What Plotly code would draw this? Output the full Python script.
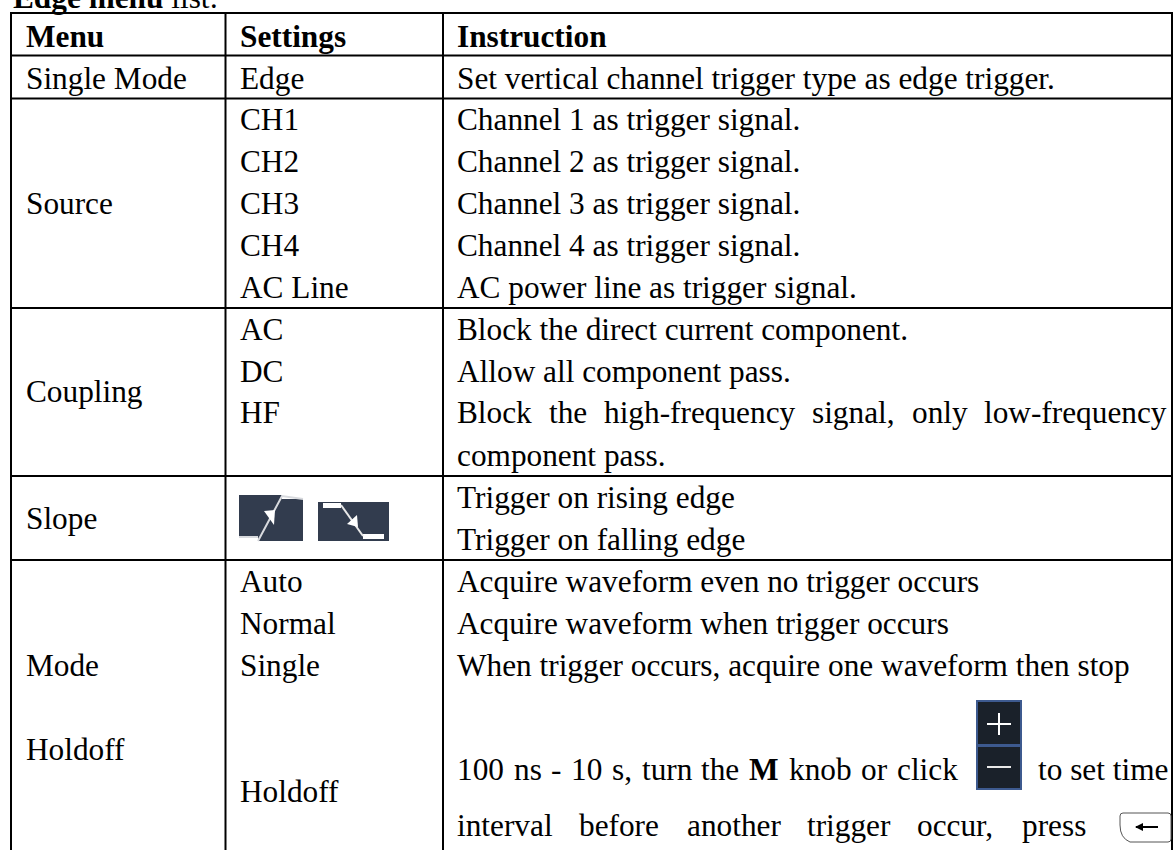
import plotly.graph_objects as go

FONT = "Liberation Serif"
FS = 31.3
W, H = 1176, 850

# column / row rules
col_x = [11, 225.5, 443, 1172]
row_y = [13, 55.5, 98.5, 308, 476, 560]

title = "<b>Edge menu</b> list:"
menu_labels = [("<b>Menu</b>", 36), ("Single Mode", 78), ("Source", 203), ("Coupling", 391),
               ("Slope", 518), ("Mode", 665), ("Holdoff", 749)]
settings_labels = [("<b>Settings</b>", 36), ("Edge", 78), ("CH1", 119), ("CH2", 161), ("CH3", 203),
                   ("CH4", 245), ("AC Line", 287), ("AC", 329), ("DC", 371), ("HF", 412),
                   ("Auto", 581), ("Normal", 623), ("Single", 665), ("Holdoff", 791)]
instruction_labels = [
    ("<b>Instruction</b>", 36),
    ("Set vertical channel trigger type as edge trigger.", 78),
    ("Channel 1 as trigger signal.", 119),
    ("Channel 2 as trigger signal.", 161),
    ("Channel 3 as trigger signal.", 203),
    ("Channel 4 as trigger signal.", 245),
    ("AC power line as trigger signal.", 287),
    ("Block the direct current component.", 329),
    ("Allow all component pass.", 371),
    ("component pass.", 455),
    ("Trigger on rising edge", 497),
    ("Trigger on falling edge", 539),
    ("Acquire waveform even no trigger occurs", 581),
    ("Acquire waveform when trigger occurs", 623),
    ("When trigger occurs, acquire one waveform then stop", 665),
]
# justified lines are placed word by word
justified = [
    (412, [("Block", 456), ("the", 548), ("high-frequency", 603), ("signal,", 811), ("only", 911), ("low-frequency", 983)]),
    (769, [("100", 456), ("ns", 513), ("-", 550), ("10", 570), ("s,", 611), ("turn", 641), ("the", 700),
           ("<b>M</b>", 748), ("knob", 788), ("or", 860), ("click", 896), ("to set time", 1037)]),
    (825, [("interval", 456), ("before", 578), ("another", 686), ("trigger", 806), ("occur,", 916), ("press", 1021)]),
]

fig = go.Figure()
fig.add_trace(go.Scatter(x=[0, W], y=[0, H], mode="markers", marker=dict(opacity=0), hoverinfo="skip", showlegend=False))

shapes = []
def line(x0, y0, x1, y1):
    shapes.append(dict(type="line", x0=x0, y0=y0, x1=x1, y1=y1, line=dict(color="#000", width=2)))

for x in col_x:
    line(x, 13, x, 850)
for y in row_y:
    line(10, y, 1173, y)

# slope icons
NAVY = "#323c4e"
def path(d, fill=NAVY, color=None, width=0):
    shapes.append(dict(type="path", path=d, fillcolor=fill, line=dict(color=color or fill, width=width)))

path("M239,495 L282,495 L282,499 L303,499 L303,541 L258,541 L258,537 L239,537 Z")
shapes.append(dict(type="path", path="M239,537 L258,537", line=dict(color="#d8dade", width=2)))
shapes.append(dict(type="path", path="M258,541 L282,496 L303,499", line=dict(color="#d8dade", width=2)))
path("M264,511 L275,510 L274,525 Z", fill="#ffffff")
path("M318,502 L389,502 L389,541 L318,541 Z")
shapes.append(dict(type="rect", x0=323, y0=503, x1=341, y1=508, fillcolor="#fff", line=dict(width=0)))
shapes.append(dict(type="rect", x0=363, y0=534, x1=384, y1=539, fillcolor="#fff", line=dict(width=0)))
shapes.append(dict(type="path", path="M341,505 L363,536", line=dict(color="#e8e8e8", width=2)))
path("M357,515 L358,527 L347,524 Z", fill="#ffffff")

# +/- buttons
for y0, y1 in [(701, 745), (746, 789)]:
    shapes.append(dict(type="rect", x0=977, y0=y0, x1=1021, y1=y1, fillcolor="#1a212a", line=dict(color="#3d5a8f", width=2)))
shapes.append(dict(type="line", x0=987, y0=724, x1=1011, y1=724, line=dict(color="#fff", width=2)))
shapes.append(dict(type="line", x0=999, y0=713, x1=999, y1=735, line=dict(color="#fff", width=2)))
shapes.append(dict(type="line", x0=987, y0=767, x1=1011, y1=767, line=dict(color="#e8e8e8", width=2)))

# back key
shapes.append(dict(type="path", path="M1130,813 L1168,813 Q1171,813 1171,816 L1171,839 Q1171,842 1168,842 L1130,842 Q1120,838 1120,825 L1120,816 Q1120,813 1123,813 Z",
                   fillcolor="#fff", line=dict(color="#555", width=1)))
shapes.append(dict(type="line", x0=1136, y0=827, x1=1158, y1=827, line=dict(color="#000", width=2)))
path("M1135,827 L1143,823 L1143,831 Z", fill="#000")

def text(s, x, y, yshift=0):
    fig.add_annotation(x=x, y=y, text=s, xanchor="left", yanchor="middle", showarrow=False, yshift=yshift,
                       font=dict(family=FONT, size=FS, color="#000"), align="left", borderpad=0)

text(title, 12, 0, yshift=3)
for s, y in menu_labels:
    text(s, 25, y)
for s, y in settings_labels:
    text(s, 239, y)
for s, y in instruction_labels:
    text(s, 456, y)
for y, words in justified:
    for s, x in words:
        text(s, x, y)

fig.update_layout(width=W, height=H, margin=dict(l=0, r=0, t=0, b=0), paper_bgcolor="#fff", plot_bgcolor="#fff",
                  shapes=shapes, showlegend=False,
                  xaxis=dict(range=[0, W], visible=False, fixedrange=True),
                  yaxis=dict(range=[H, 0], visible=False, fixedrange=True))
fig.write_html("out.html", config=dict(displayModeBar=False),
               post_script="document.body.style.margin='0';document.documentElement.style.overflow='hidden';")
